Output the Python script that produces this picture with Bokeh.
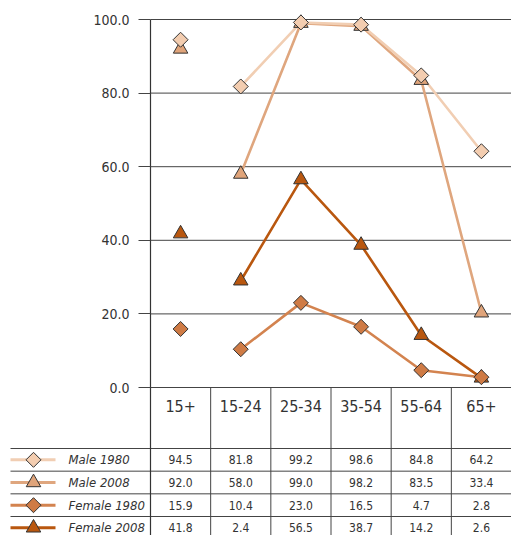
import math
from bokeh.plotting import figure
from bokeh.models import Range1d, FixedTicker, PrintfTickFormatter, LinearAxis
from bokeh.core.properties import value
from bokeh.embed import file_html
from bokeh.resources import INLINE

# ---------------- data ----------------
categories = ["15+", "15-24", "25-34", "35-54", "55-64", "65+"]
series_names = ["Male 1980", "Male 2008", "Female 1980", "Female 2008"]

# values as plotted in the chart
male_1980 = [94.5, 81.8, 99.2, 98.6, 84.8, 64.2]
male_2008 = [92.0, 58.0, 99.0, 98.2, 83.5, 20.3]
female_1980 = [15.9, 10.4, 23.0, 16.5, 4.7, 2.8]
female_2008 = [41.8, 29.0, 56.5, 38.7, 14.2, 2.6]

# values as printed in the data table
table_male_1980 = [94.5, 81.8, 99.2, 98.6, 84.8, 64.2]
table_male_2008 = [92.0, 58.0, 99.0, 98.2, 83.5, 33.4]
table_female_1980 = [15.9, 10.4, 23.0, 16.5, 4.7, 2.8]
table_female_2008 = [41.8, 2.4, 56.5, 38.7, 14.2, 2.6]

y_ticks = [0, 20, 40, 60, 80, 100]

# ---------------- styles ----------------
FONT = "'Liberation Sans Narrow', 'DejaVu Sans Condensed', 'Roboto Condensed', 'Liberation Sans', sans-serif"
TEXT_COLOR = "#333333"
GRID_COLOR = "#444444"
line_colors = ["#f1ceb3", "#dfa67e", "#d3834f", "#b9570f"]
fill_colors = ["#f3cdb0", "#e0a47a", "#cf7b45", "#b9570f"]
markers = ["diamond", "triangle", "diamond", "triangle"]

plot_series = [male_1980, male_2008, female_1980, female_2008]
table_series = [table_male_1980, table_male_2008, table_female_1980, table_female_2008]

# ---------------- layout (pixels) ----------------
W = 511
H = 535
LEFT = 150       # from figure left edge to the value axis
TOP = 19         # above the 100 line
PLOT_H = 368     # 0..100
HEADER_H = 61    # category label row
ROW_H = 22.67    # data-table rows
N = len(categories)
n_rows = len(series_names)

unit = (W - LEFT) / N          # px per category
ppu = PLOT_H / 100.0           # px per value unit

x_start = -LEFT / unit
y_end = 100 + TOP / ppu
y_start = -(H - TOP - PLOT_H) / ppu

cx = [i + 0.5 for i in range(N)]


def px(offset):
    """x data coordinate of a pixel offset from the figure's left edge"""
    return x_start + offset / unit


def row_top(r):
    return -(HEADER_H + r * ROW_H) / ppu


def row_mid(r):
    return -(HEADER_H + (r + 0.5) * ROW_H) / ppu


def marker_kw(m):
    if m == "diamond":
        return dict(marker="square", angle=math.pi / 4, size=10.6)
    return dict(marker="triangle", size=14.5)


p = figure(width=W, height=H,
           x_range=Range1d(x_start, N), y_range=Range1d(y_start, y_end),
           output_backend="svg", toolbar_location=None, title=None,
           x_axis_location=None, y_axis_location=None, min_border=0,
           outline_line_color=None, background_fill_color="white",
           border_fill_color="white")
p.grid.visible = False

# value axis, drawn at x = 0 (left edge of the category columns)
yaxis = LinearAxis(fixed_location=0, bounds=(y_start, 100),
                   ticker=FixedTicker(ticks=y_ticks),
                   formatter=PrintfTickFormatter(format="%.1f"))
yaxis.major_tick_out = 12
yaxis.major_tick_in = 0
yaxis.minor_tick_line_color = None
yaxis.major_tick_line_color = GRID_COLOR
yaxis.axis_line_color = "#333333"
yaxis.axis_line_width = 1.2
yaxis.major_label_standoff = 9
yaxis.major_label_text_font = FONT
yaxis.major_label_text_font_size = "14px"
yaxis.major_label_text_color = TEXT_COLOR
p.add_layout(yaxis, "left")

# horizontal grid lines across the category columns
p.segment(x0=[0] * len(y_ticks), y0=y_ticks, x1=[N] * len(y_ticks), y1=y_ticks,
          line_color=GRID_COLOR, line_width=1)

# column separators through header and table
p.segment(x0=list(range(1, N)), y0=[0] * (N - 1), x1=list(range(1, N)),
          y1=[y_start] * (N - 1), line_color=GRID_COLOR, line_width=1)

# table row lines
p.segment(x0=[px(10)] * n_rows, y0=[row_top(r) for r in range(n_rows)],
          x1=[N] * n_rows, y1=[row_top(r) for r in range(n_rows)],
          line_color=GRID_COLOR, line_width=1)

# category labels
p.text(x=cx, y=[0] * N, text=categories, y_offset=18,
       text_align="center", text_baseline="middle",
       text_font=value(FONT), text_font_size="16px", text_color=TEXT_COLOR)

# series lines (15+ is not connected)
draw_order = [3, 2, 1, 0]
for k in draw_order:
    p.line(x=cx[1:], y=plot_series[k][1:], line_color=line_colors[k], line_width=2.6)
for k in draw_order:
    p.scatter(x=cx, y=plot_series[k], fill_color=fill_colors[k],
              line_color="#333333", line_width=1, **marker_kw(markers[k]))

# data table rows
for r in range(n_rows):
    yc = row_mid(r)
    p.segment(x0=[px(10)], y0=[yc], x1=[px(55)], y1=[yc],
              line_color=line_colors[r], line_width=3)
    p.scatter(x=[px(33)], y=[yc], fill_color=fill_colors[r], line_color="#333333",
              line_width=1, **marker_kw(markers[r]))
    p.text(x=[px(68)], y=[yc], text=[series_names[r]], text_align="left",
           text_baseline="middle", text_font=value(FONT), text_font_size="13px",
           text_font_style="italic", text_color=TEXT_COLOR)
    p.text(x=cx, y=[yc] * N, text=["%.1f" % v for v in table_series[r]],
           text_align="center", text_baseline="middle", text_font=value(FONT),
           text_font_size="12px", text_color=TEXT_COLOR)

open("out.html", "w").write(file_html(p, INLINE))
